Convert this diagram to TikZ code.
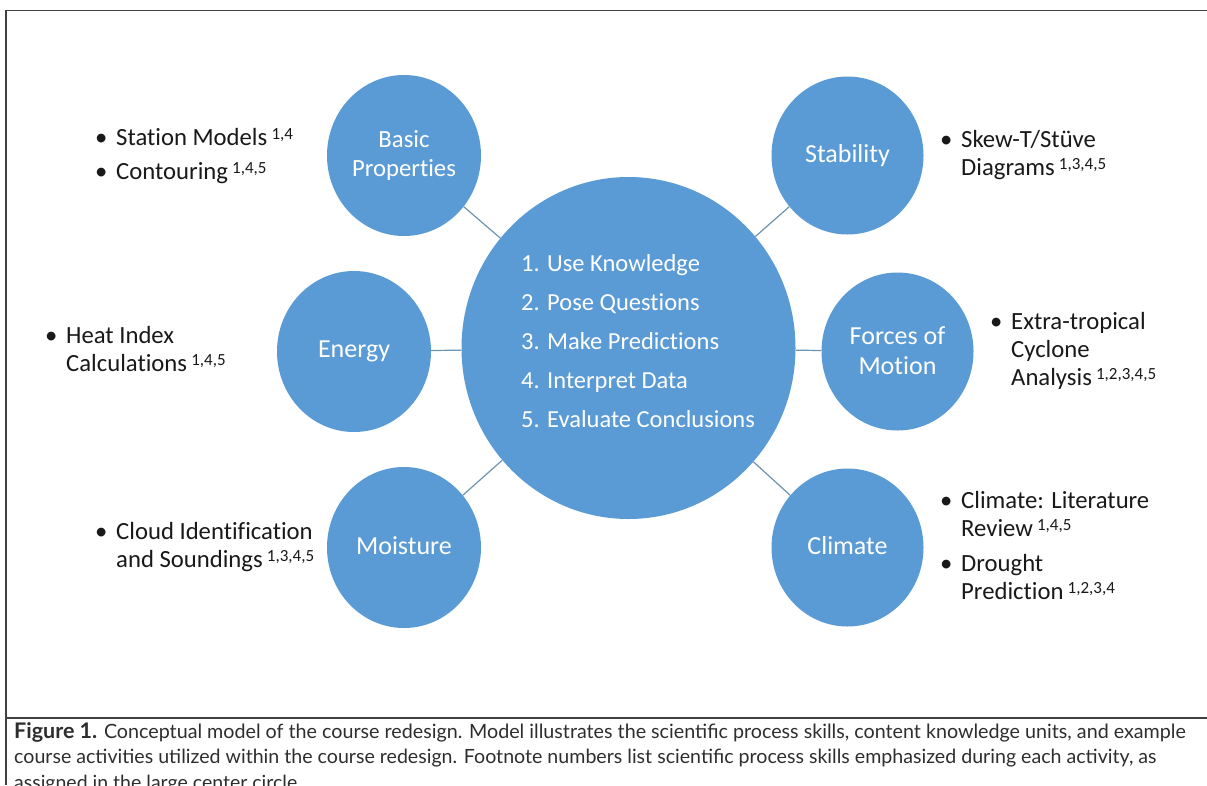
\documentclass[tikz,border=0pt]{standalone}
\usepackage{fontspec}
\usetikzlibrary{shapes.geometric}
\setmainfont[Ligatures=NoCommon]{Carlito}
\newfontfamily\capfont{Lato}
\definecolor{blu}{HTML}{5B9BD5}
\definecolor{capcol}{HTML}{2E2E2E}
\definecolor{linkcol}{HTML}{6F93AE}
\newcommand{\sups}[1]{\,\raisebox{6pt}{\fontsize{17}{17}\selectfont #1}}
\newcommand{\capfs}[1]{\capfont\fontsize{#1}{25.5}\selectfont}
\tikzset{
 hub/.style={ellipse,fill=blu,inner sep=0pt,minimum width=334pt,minimum height=342pt},
 unit/.style={ellipse,fill=blu,inner sep=0pt,minimum width=154pt,minimum height=161pt,text=white,align=center,font=\fontsize{26}{29.5}\selectfont},
 unitb/.style={unit,minimum width=152pt,minimum height=158pt},
 link/.style={draw=linkcol,line width=1.2pt},
 items/.style={anchor=north west,inner sep=0pt,font=\fontsize{24.7}{28}\selectfont,text=black!90},
 skills/.style={anchor=west,inner sep=0pt,align=left,text=white,font=\fontsize{24.5}{39}\selectfont},
 frameline/.style={draw=black!75,line width=1.2pt},
 caption/.style={anchor=north west,inner sep=0pt,align=left,text=capcol,font=\capfs{19.7}}
}
\newenvironment{blist}{\renewcommand{\arraystretch}{1}\begin{tabular}{@{}p{21pt}@{}l@{}}}{\end{tabular}}
\begin{document}
\begin{tikzpicture}[x=1pt,y=-1pt]
\useasboundingbox (0,0) rectangle (1207,785);
\clip (0,0) rectangle (1207,785);
\fill[white] (0,0) rectangle (1207,785);
\draw[frameline] (1207,10.5) -- (6,10.5) -- (6,785);
\draw[frameline] (6,718) -- (1207,718);
\node[hub] (hub) at (628.5,348) {};
\node[unit,font=\fontsize{24.7}{29}\selectfont] (basic) at (404,155.5) {Basic\\Properties};
\node[unitb] (stab) at (847.5,155.5) {Stability};
\node[unit] (energy) at (354,351.5) {Energy};
\node[unitb] (forces) at (897.5,351.5) {Forces of\\Motion\rule[-2pt]{0pt}{2pt}};
\node[unit] (moist) at (404,547.5) {Moisture\rule[-4pt]{0pt}{4pt}};
\node[unitb] (clim) at (847.5,547.5) {Climate\rule[-4pt]{0pt}{4pt}};
\foreach \n in {basic,stab,energy,forces,moist,clim}{\draw[link] (hub) -- (\n);}
\node[skills] (sk) at (521,341) {1. Use Knowledge\\2. Pose Questions\\3. Make Predictions\\4. Interpret Data\\5. Evaluate Conclusions};
\node[items] (i1) at (95,126) {\begin{blist}•&Station Models\sups{1,4}\\[6pt]•&Contouring\sups{1,4,5}\end{blist}};
\node[items] (i2) at (45,324) {\begin{blist}•&Heat Index\\&Calculations\sups{1,4,5}\end{blist}};
\node[items] (i3) at (95,520) {\begin{blist}•&Cloud Identification\\&and Soundings\sups{1,3,4,5}\end{blist}};
\node[items] (i4) at (940,128) {\begin{blist}•&Skew-T/Stüve\\&Diagrams\sups{1,3,4,5}\end{blist}};
\node[items] (i5) at (990,310) {\begin{blist}•&Extra-tropical\\&Cyclone\\&Analysis\sups{1,2,3,4,5}\end{blist}};
\node[items] (i6) at (940,489) {\begin{blist}•&Climate: Literature\\&Review\sups{1,4,5}\\[7pt]•&Drought\\&Prediction\sups{1,2,3,4}\end{blist}};
\node[caption] (cap) at (14,722) {{\capfs{21.5}\bfseries Figure 1.} Conceptual model of the course redesign. Model illustrates the scientific process skills, content knowledge units, and example\\{\capfs{19.6}course activities utilized within the course redesign. Footnote numbers list scientific process skills emphasized during each activity, as}\\{\capfs{19.5}assigned in the large center circle.}};
\end{tikzpicture}
\end{document}
